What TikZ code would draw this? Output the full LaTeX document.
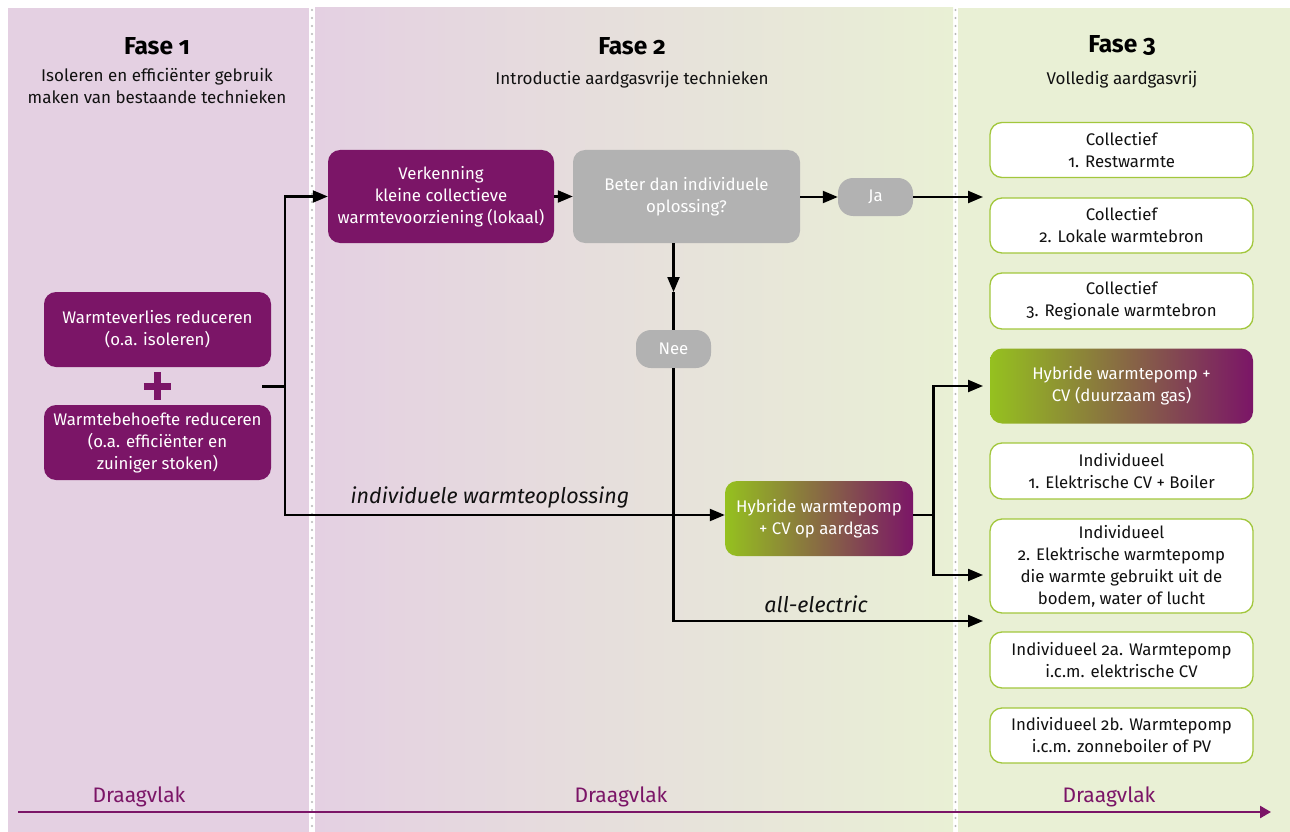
\documentclass[tikz,border=0pt]{standalone}
\usepackage{fontspec}
\setmainfont{Fira Sans}[Numbers=OldStyle]
\usetikzlibrary{arrows.meta}
\definecolor{pinkbg}{HTML}{E4D0E2}
\definecolor{greenbg}{HTML}{E9F0D5}
\definecolor{purp}{HTML}{7B1567}
\definecolor{greyb}{HTML}{B2B2B2}
\definecolor{lgreen}{HTML}{A2C73C}
\definecolor{grgreen}{HTML}{95C11F}
\definecolor{txt}{HTML}{111111}
\definecolor{dotc}{HTML}{B8B8B8}
\tikzset{
  body/.style={font=\fontsize{16.8}{22}\selectfont, align=center, inner sep=0pt},
  purpbox/.style={body, fill=purp, text=white, rounded corners=12pt},
  greybox/.style={body, fill=greyb, text=white, rounded corners=12pt},
  pill/.style={body, fill=greyb, text=white, rounded corners=15pt, minimum width=75pt, minimum height=38pt},
  gradbox/.style={body, left color=grgreen, right color=purp, text=white, rounded corners=12pt},
  whitebox/.style={body, fill=white, draw=lgreen, line width=1.3pt, text=txt, rounded corners=12pt, minimum width=263pt},
  ln/.style={line width=2.2pt, black},
  arr/.style={ln, -{Triangle[length=15pt,width=12pt]}},
  divider/.style={dotc, line width=2.4pt, dash pattern=on 0pt off 8pt, line cap=round},
  head/.style={font=\fontsize{24.5}{27}\selectfont\bfseries, text=black},
  sub/.style={font=\fontsize{17}{22}\selectfont, align=center, text=txt},
  lbl/.style={font=\fontsize{21.5}{24}\selectfont\itshape, text=txt},
  dv/.style={font=\fontsize{21}{22}\selectfont, text=purp},
}
\begin{document}
\begin{tikzpicture}[x=1pt,y=-1pt]
\useasboundingbox (0,0) rectangle (1290,832);
\fill[white] (0,0) rectangle (1290,832);
% panels
\fill[pinkbg] (8,8) rectangle (309,832);
\shade[left color=pinkbg,right color=greenbg] (315,8) rectangle (953,832);
\fill[greenbg] (958,8) rectangle (1290,832);
\draw[divider] (312,10) -- (312,832);
\draw[divider] (955.5,10) -- (955.5,832);
% headers
\node[head] (h1) at (157,46) {Fase 1};
\node[sub] (s1) at (157,86) {Isoleren en efficiënter gebruik\\maken van bestaande technieken};
\node[head] (h2) at (632,46) {Fase 2};
\node[sub] (s2) at (632,80) {Introductie aardgasvrije technieken};
\node[head] (h3) at (1122,46) {Fase 3};
\node[sub] (s3) at (1122,80) {Volledig aardgasvrij};
% fase 1
\node[purpbox, minimum width=227pt, minimum height=75pt] (wv) at (157.5,329.5) {Warmteverlies reduceren\\(o.a. isoleren)};
\node[purpbox, minimum width=227pt, minimum height=75pt] (wb) at (157.5,442.5) {Warmtebehoefte reduceren\\(o.a. efficiënter en\\zuiniger stoken)};
\node[minimum size=27pt, inner sep=0pt] (plus) at (157.5,386) {};
\draw[purp, line width=7pt] (plus.west) -- (plus.east) (plus.north) -- (plus.south);
% fase 2
\node[purpbox, minimum width=226pt, minimum height=93pt] (verk) at (441,196.5) {Verkenning\\kleine collectieve\\warmtevoorziening (lokaal)};
\node[greybox, minimum width=227pt, minimum height=93pt] (beter) at (686.5,196.5) {Beter dan individuele\\oplossing?};
\node[pill] (ja) at (875.5,197) {Ja};
\node[pill] (nee) at (673.5,349) {Nee};
\node[gradbox, minimum width=188pt, minimum height=75pt] (hyb) at (819,518.5) {Hybride warmtepomp\\+ CV op aardgas};
% fase 3
\node[whitebox, minimum height=55pt] (c1) at (1121.5,150) {Collectief\\1. Restwarmte};
\node[whitebox, minimum height=55pt] (c2) at (1121.5,225.5) {Collectief\\2. Lokale warmtebron};
\node[whitebox, minimum height=56pt] (c3) at (1121.5,301) {Collectief\\3. Regionale warmtebron};
\node[gradbox, minimum width=263pt, minimum height=75pt] (hd) at (1121.5,386) {Hybride warmtepomp +\\CV (duurzaam gas)};
\node[whitebox, minimum height=56pt] (i1) at (1121.5,471) {Individueel\\1. Elektrische CV + Boiler};
\node[whitebox, minimum height=94pt] (i2) at (1121.5,566) {Individueel\\2. Elektrische warmtepomp\\die warmte gebruikt uit de\\bodem, water of lucht};
\node[whitebox, minimum height=56pt] (i2a) at (1121.5,660) {Individueel 2a. Warmtepomp\\i.c.m. elektrische CV};
\node[whitebox, minimum height=55pt] (i2b) at (1121.5,735.5) {Individueel 2b. Warmtepomp\\i.c.m. zonneboiler of PV};
% coordinates
\coordinate (stub) at (262,386.5);
\coordinate (j) at (285,386.5);
\coordinate (jb) at (285,515);
\coordinate (nmid) at (673.5,292);
\coordinate (jr) at (983,197);
\coordinate (hj) at (933.5,515);
\coordinate (t1) at (983,386);
\coordinate (t2) at (983,575);
\coordinate (ae) at (983,621);
% connectors
\draw[ln] (stub) -- (j);
\draw[arr] (j) |- (verk.west);
\draw[arr] (j) |- (hyb.west |- jb);
\draw[arr] (verk) -- (beter);
\draw[arr] (beter.east |- ja) -- (ja.west);
\draw[arr] (ja.east) -- (jr);
\draw[arr] (nee.north |- beter.south) -- (nmid);
\draw[ln] (nmid) -- (nee.north);
\draw[arr] (nee.south) |- (ae);
\draw[ln] (hyb.east |- hj) -- (hj);
\draw[arr] (hj) |- (t1);
\draw[arr] (hj) |- (t2);
% labels
\node[lbl] (l1) at (490,497) {individuele warmteoplossing};
\node[lbl] (l2) at (816,604) {all-electric};
% bottom axis
\coordinate (ax0) at (18,812);
\coordinate (ax1) at (1271,812);
\draw[purp, line width=2.5pt, -{Triangle[length=11pt,width=12pt]}] (ax0) -- (ax1);
\node[dv] (d1) at (139,797) {Draagvlak};
\node[dv] (d2) at (621,797) {Draagvlak};
\node[dv] (d3) at (1109,797) {Draagvlak};
\end{tikzpicture}
\end{document}
